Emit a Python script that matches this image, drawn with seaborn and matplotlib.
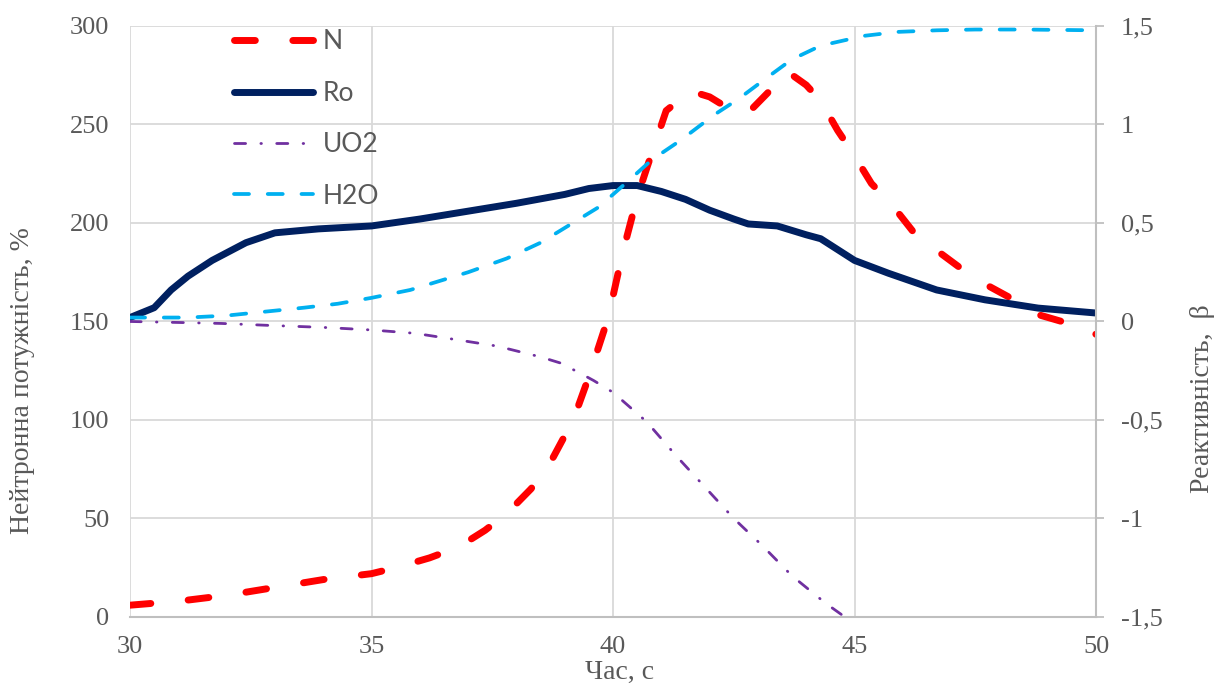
import matplotlib
matplotlib.use("Agg")
import matplotlib.pyplot as plt
import matplotlib.ticker as mticker
import seaborn as sns
import pandas as pd

# ---- data ----
t_n = [30, 31, 32, 33, 34, 35, 35.5, 36.2, 36.8, 37.35, 37.8, 38.3, 38.65, 39.0, 39.25,
       39.5, 39.7, 39.9, 40.2, 40.5, 40.7, 41.1, 41.6, 42.0, 42.4, 42.8, 43.2, 43.6,
       44.0, 44.3, 44.65, 44.95, 45.35, 45.75, 46.2, 46.65, 47.2, 47.7, 48.3, 48.8, 49.5, 50]
n_power = [6, 8, 11, 15, 19, 22, 25, 30, 35.5, 44, 52.5, 65, 76, 92, 105,
           122, 137, 152, 185, 213, 228, 257, 267, 264, 258, 256, 266, 277,
           270, 262, 247, 236, 220, 210, 196, 187, 177, 169, 161, 153.5, 148.5, 143.5]

t_ro = [30, 30.5, 30.85, 31.2, 31.7, 32.4, 33.0, 33.9, 35, 36, 37, 38, 39, 39.5, 40, 40.5,
        41, 41.5, 42, 42.5, 42.8, 43.4, 44, 44.3, 45, 45.7, 46.7, 47.7, 48.8, 50]
ro = [0.02, 0.07, 0.16, 0.23, 0.31, 0.40, 0.45, 0.47, 0.485, 0.52, 0.56, 0.60, 0.645, 0.675, 0.69, 0.69,
      0.66, 0.62, 0.565, 0.52, 0.495, 0.485, 0.44, 0.42, 0.31, 0.245, 0.16, 0.11, 0.068, 0.043]

t_uo2 = [30, 31, 31.9, 32.9, 34, 35, 35.9, 36.8, 37.6, 38.5, 38.9, 39.3, 39.6, 40, 40.7,
         41.3, 41.9, 42.5, 43.1, 43.7, 44.4, 44.8]
uo2 = [0.0, -0.005, -0.01, -0.02, -0.03, -0.043, -0.06, -0.094, -0.125, -0.18, -0.21, -0.26, -0.30, -0.36, -0.51,
       -0.68, -0.84, -1.0, -1.14, -1.29, -1.43, -1.5]

t_h2o = [30, 31.2, 32, 32.8, 33.6, 34.3, 35, 35.8, 37, 37.8, 38.5, 39.1, 39.7, 40.3, 40.8, 41.4,
         42.1, 42.6, 43.2, 43.7, 44.3, 45.2, 45.9, 46.7, 47.5, 48.5, 50]
h2o = [0.02, 0.02, 0.03, 0.05, 0.07, 0.09, 0.12, 0.16, 0.25, 0.32, 0.40, 0.49, 0.58, 0.71, 0.82, 0.92,
       1.05, 1.13, 1.24, 1.33, 1.40, 1.45, 1.47, 1.478, 1.482, 1.482, 1.478]

x_ticks = [30, 35, 40, 45, 50]
left_ticks = [0, 50, 100, 150, 200, 250, 300]
right_ticks = [-1.5, -1, -0.5, 0, 0.5, 1, 1.5]

df_n = pd.DataFrame({"t": t_n, "v": n_power})
df_ro = pd.DataFrame({"t": t_ro, "v": ro})
df_uo2 = pd.DataFrame({"t": t_uo2, "v": uo2})
df_h2o = pd.DataFrame({"t": t_h2o, "v": h2o})

# ---- style ----
sns.set_style("white")
plt.rcParams["font.family"] = ["Liberation Serif", "DejaVu Serif"]
txt = "#595959"
grid_c = "#D9D9D9"

fig = plt.figure(figsize=(12.2, 6.89), dpi=100)
ax = fig.add_axes([0.1066, 0.1045, 0.7918, 0.8578])
ax2 = ax.twinx()

# N on the primary axis
sns.lineplot(data=df_n, x="t", y="v", ax=ax, color="#FF0000", lw=5.0, sort=False,
             estimator=None, linestyle=(0, (3.0, 5.4)), dash_capstyle="round", label="N", legend=False)

# reactivity components on the secondary axis
sns.lineplot(data=df_ro, x="t", y="v", ax=ax2, color="#002060", lw=5.0, sort=False,
             estimator=None, solid_capstyle="round", label="Ro", legend=False)
sns.lineplot(data=df_uo2, x="t", y="v", ax=ax2, color="#7030A0", lw=2.0, sort=False,
             estimator=None, linestyle=(0, (4.0, 5.5, 0.2, 5.5)), dash_capstyle="round",
             label="UO2", legend=False)
sns.lineplot(data=df_h2o, x="t", y="v", ax=ax2, color="#00B0F0", lw=2.7, sort=False,
             estimator=None, linestyle=(0, (4.0, 5.0)), dash_capstyle="round",
             label="H2O", legend=False)

# axes limits / ticks
ax.set_xlim(30, 50)
ax.set_ylim(0, 300)
ax2.set_ylim(-1.5, 1.5)
ax.set_xticks(x_ticks)
ax.set_yticks(left_ticks)
ax2.set_yticks(right_ticks)
ax2.yaxis.set_major_formatter(mticker.FuncFormatter(lambda v, p: f"{v:g}".replace(".", ",")))

ax.grid(True, color=grid_c, lw=1.3)
ax.set_axisbelow(True)
for s in ["top", "left", "right"]:
    ax.spines[s].set_visible(False)
for s in ["top", "left", "bottom"]:
    ax2.spines[s].set_visible(False)
ax.spines["bottom"].set_color("#BFBFBF")
ax.spines["bottom"].set_linewidth(1.5)
ax2.spines["right"].set_color("#BFBFBF")
ax2.spines["right"].set_linewidth(1.5)

ax.tick_params(axis="y", length=0, labelsize=19, labelcolor=txt, pad=15)
ax.tick_params(axis="x", length=0, labelsize=19, labelcolor=txt, pad=14)
ax2.tick_params(axis="y", length=6, width=1.3, color="#BFBFBF", labelsize=19, labelcolor=txt, pad=12)

ax.set_xlabel("Час, с", fontsize=20, color=txt)
ax.set_ylabel("Нейтронна потужність, %", fontsize=20, color=txt)
ax2.set_ylabel("Реактивність,  β", fontsize=20, color=txt)
ax.xaxis.set_label_coords(0.507, -0.072)
ax.yaxis.set_label_coords(-0.098, 0.40)
ax2.yaxis.set_label_coords(1.097, 0.37)

# legend
handles = ax.get_lines()[:1] + ax2.get_lines()
leg = ax2.legend(handles=handles, labels=["N", "Ro", "UO2", "H2O"], loc="upper left",
                 bbox_to_anchor=(0.097, 1.012), frameon=False, handlelength=3.0,
                 handletextpad=0.35, labelspacing=1.0, borderaxespad=0,
                 prop={"family": "Lato", "size": 19})
for t in leg.get_texts():
    t.set_color(txt)

fig.savefig("out.png", dpi=100)
